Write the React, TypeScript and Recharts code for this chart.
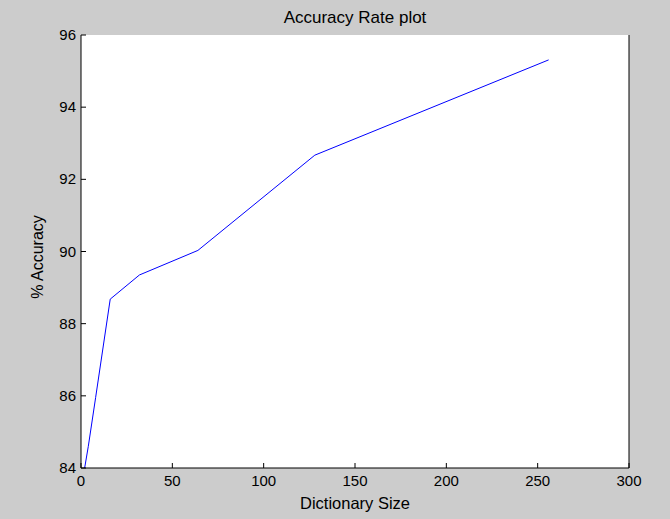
import { LineChart, Line, XAxis, YAxis, ResponsiveContainer } from "recharts"

const dictSizes = [2, 4, 8, 16, 32, 64, 128, 256]
const accuracy = [84.0, 84.6, 85.95, 88.68, 89.35, 90.03, 92.67, 95.31]
const xTicks = [0, 50, 100, 150, 200, 250, 300]
const yTicks = [84, 86, 88, 90, 92, 94, 96]

const data = dictSizes.map((size, i) => ({ size, acc: accuracy[i] }))

const font = "'Liberation Sans', Arial, sans-serif"

// ticks drawn inward like matlab, label outside
const BottomTick = (props: any) => {
  const { x, y, payload } = props
  return (
    <g>
      <line x1={x} y1={y} x2={x} y2={y - 5} stroke="#000" />
      <text x={x} y={y + 18} textAnchor="middle" fontSize={15} fill="#000" fontFamily={font}>
        {payload.value}
      </text>
    </g>
  )
}

const TopTick = (props: any) => {
  const { x, y } = props
  return <line x1={x} y1={y} x2={x} y2={y + 5} stroke="#000" />
}

const LeftTick = (props: any) => {
  const { x, y, payload } = props
  return (
    <g>
      <line x1={x} y1={y} x2={x + 5} y2={y} stroke="#000" />
      <text x={x - 5} y={y + 5} textAnchor="end" fontSize={15} fill="#000" fontFamily={font}>
        {payload.value}
      </text>
    </g>
  )
}

const RightTick = (props: any) => {
  const { x, y } = props
  return <line x1={x} y1={y} x2={x - 5} y2={y} stroke="#000" />
}

export default function App() {
  return (
    <div style={{ position: "absolute", left: 0, top: 0, width: 670, height: 519, background: "#cccccc" }}>
      <div style={{ position: "absolute", left: 0, top: 0 }}>
        <ResponsiveContainer width={670} height={519}>
          <LineChart data={data} margin={{ top: 35, right: 11, bottom: 21, left: 51 }}>
            <rect x={81} y={35} width={548} height={433} fill="#fff" />
            <XAxis
              xAxisId="b"
              dataKey="size"
              type="number"
              domain={[0, 300]}
              ticks={xTicks}
              height={30}
              tickSize={0}
              tickMargin={0}
              tickLine={false}
              tick={<BottomTick />}
              stroke="#000"
              interval={0}
            />
            <XAxis
              xAxisId="t"
              orientation="top"
              dataKey="size"
              type="number"
              domain={[0, 300]}
              ticks={xTicks}
              height={0}
              tickSize={0}
              tickMargin={0}
              tickLine={false}
              tick={<TopTick />}
              stroke="#000"
              interval={0}
            />
            <YAxis
              yAxisId="l"
              type="number"
              domain={[84, 96]}
              ticks={yTicks}
              width={30}
              tickSize={0}
              tickMargin={0}
              tickLine={false}
              tick={<LeftTick />}
              stroke="#000"
              interval={0}
            />
            <YAxis
              yAxisId="r"
              orientation="right"
              type="number"
              domain={[84, 96]}
              ticks={yTicks}
              width={30}
              tickSize={0}
              tickMargin={0}
              tickLine={false}
              tick={<RightTick />}
              stroke="#000"
              interval={0}
            />
            <Line
              xAxisId="b"
              yAxisId="l"
              type="linear"
              dataKey="acc"
              stroke="#0000ff"
              strokeWidth={1}
              dot={false}
              isAnimationActive={false}
            />
            <text x={355} y={23} textAnchor="middle" fontSize={17} fill="#000" fontFamily={font}>
              Accuracy Rate plot
            </text>
            <text x={355} y={509} textAnchor="middle" fontSize={16.5} fill="#000" fontFamily={font}>
              Dictionary Size
            </text>
            <text
              x={43}
              y={257}
              textAnchor="middle"
              fontSize={16}
              fill="#000"
              fontFamily={font}
              transform="rotate(-90 43 257)"
            >
              % Accuracy
            </text>
          </LineChart>
        </ResponsiveContainer>
      </div>
    </div>
  )
}
